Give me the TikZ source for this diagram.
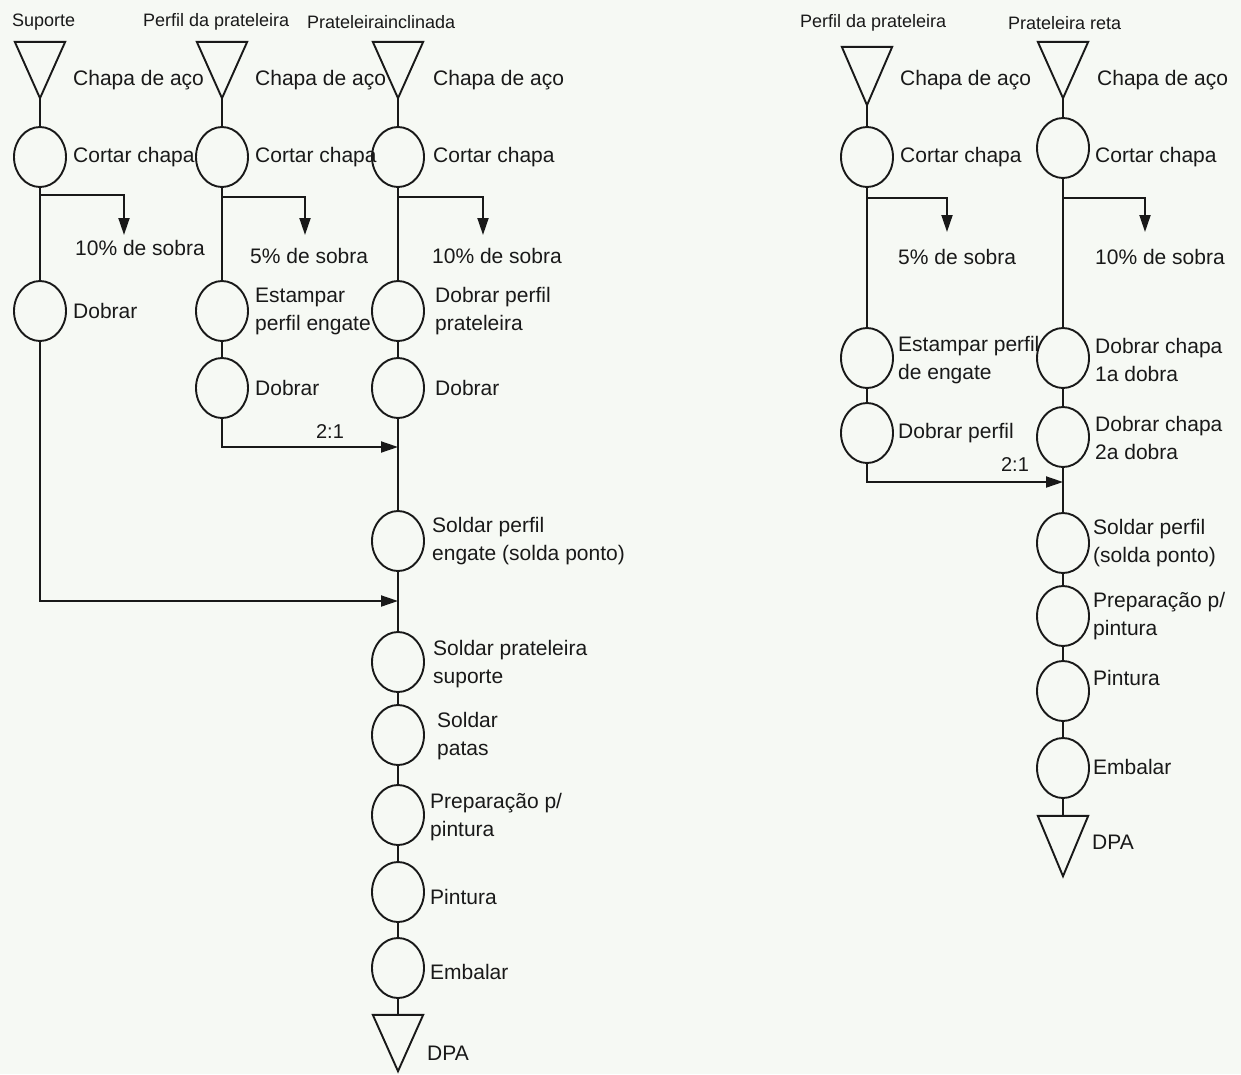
\documentclass[tikz,border=0pt]{standalone}
\usepackage{fontspec}
\setmainfont{Liberation Sans}
\usetikzlibrary{shapes.geometric,arrows.meta}
\definecolor{bgcol}{RGB}{246,249,244}
\definecolor{ink}{RGB}{25,25,25}
\begin{document}
\begin{tikzpicture}[x=1pt,y=-1pt,
  proc/.style={ellipse,draw=ink,line width=1.9pt,minimum width=52pt,minimum height=60pt,inner sep=0pt},
  tri/.style={rectangle,minimum width=50pt,minimum height=56pt,inner sep=0pt},
  trishape/.style={draw=ink,line width=1.9pt,line join=miter},
  lbl/.style={anchor=west,font=\fontsize{21}{28}\selectfont,align=left,inner sep=0pt,text=ink},
  ttl/.style={anchor=west,font=\fontsize{18}{22}\selectfont,inner sep=0pt,text=ink},
  ratio/.style={font=\fontsize{20}{24}\selectfont,inner sep=0pt,text=ink},
  ln/.style={draw=ink,line width=1.9pt},
  arr/.style={draw=ink,line width=1.9pt,-{Triangle[length=17pt,width=11pt]}}]
\fill[bgcol] (0,0) rectangle (1241,1074);
\useasboundingbox (0,0) rectangle (1241,1074);

% ---------------- left diagram ----------------
\node[ttl] (hA) at (12,22) {Suporte};
\node[ttl] (hB) at (143,22) {Perfil da prateleira};
\node[ttl] (hC) at (307,22) {Prateleirainclinada};

\node[tri] (tA) at (40,70) {};
\node[tri] (tB) at (222,70) {};
\node[tri] (tC) at (398,70) {};
\node[tri] (tC2) at (398,1043) {};
\foreach \t in {tA,tB,tC,tC2}{
  \draw[trishape] (\t.north west) -- (\t.north east) -- (\t.south) -- cycle;
}

\node[proc] (cA1) at (40,157) {};
\node[proc] (cA2) at (40,311) {};
\node[proc] (cB1) at (222,157) {};
\node[proc] (cB2) at (222,311) {};
\node[proc] (cB3) at (222,388) {};
\node[proc] (cC1) at (398,157) {};
\node[proc] (cC2) at (398,311) {};
\node[proc] (cC3) at (398,388) {};
\node[proc] (cC4) at (398,541) {};
\node[proc] (cC5) at (398,662) {};
\node[proc] (cC6) at (398,735) {};
\node[proc] (cC7) at (398,815) {};
\node[proc] (cC8) at (398,892) {};
\node[proc] (cC9) at (398,968) {};

\node[lbl] (lA0) at (73,80) {Chapa de aço};
\node[lbl] (lB0) at (255,80) {Chapa de aço};
\node[lbl] (lC0) at (433,80) {Chapa de aço};
\node[lbl] (lA1) at (73,157) {Cortar chapa};
\node[lbl] (lB1) at (255,157) {Cortar chapa};
\node[lbl] (lC1) at (433,157) {Cortar chapa};
\node[lbl] (sA) at (75,248) {10\% de sobra};
\node[lbl] (sB) at (250,256) {5\% de sobra};
\node[lbl] (sC) at (432,256) {10\% de sobra};
\node[lbl] (lA2) at (73,311) {Dobrar};
\node[lbl] (lB2) at (255,311) {Estampar\\perfil engate};
\node[lbl] (lC2) at (435,311) {Dobrar perfil\\prateleira};
\node[lbl] (lB3) at (255,388) {Dobrar};
\node[lbl] (lC3) at (435,388) {Dobrar};
\node[ratio] (rB) at (330,432) {2:1};
\node[lbl] (lC4) at (432,541) {Soldar perfil\\engate (solda ponto)};
\node[lbl] (lC5) at (433,664) {Soldar prateleira\\suporte};
\node[lbl] (lC6) at (437,736) {Soldar\\patas};
\node[lbl] (lC7) at (430,817) {Preparação p/\\pintura};
\node[lbl] (lC8) at (430,897) {Pintura};
\node[lbl] (lC9) at (430,972) {Embalar};
\node[lbl] (lCe) at (427,1053) {DPA};

\draw[ln] (tA) -- (cA1);
\draw[ln] (cA1) -- (cA2);
\draw[ln] (tB) -- (cB1);
\draw[ln] (cB1) -- (cB2) -- (cB3);
\draw[ln] (tC) -- (cC1) -- (cC2) -- (cC3) -- (cC4) -- (cC5) -- (cC6) -- (cC7) -- (cC8) -- (cC9) -- (tC2);

\coordinate (jA) at (40,195);
\coordinate (eA) at (124,235);
\coordinate (jB) at (222,197);
\coordinate (eB) at (305,235);
\coordinate (jC) at (398,197);
\coordinate (eC) at (483,235);
\draw[arr] (jA) -| (eA);
\draw[arr] (jB) -| (eB);
\draw[arr] (jC) -| (eC);

\coordinate (mB) at (398,447);
\coordinate (mA) at (398,601);
\draw[arr] (cB3) |- (mB);
\draw[arr] (cA2) |- (mA);

% ---------------- right diagram ----------------
\node[ttl] (hD) at (800,23) {Perfil da prateleira};
\node[ttl] (hE) at (1008,23) {Prateleira reta};

\node[tri,minimum height=58pt] (tD) at (867,76) {};
\node[tri] (tE) at (1063,70) {};
\node[tri,minimum height=60pt] (tE2) at (1063,846) {};
\foreach \t in {tD,tE,tE2}{
  \draw[trishape] (\t.north west) -- (\t.north east) -- (\t.south) -- cycle;
}

\node[proc] (cD1) at (867,157) {};
\node[proc] (cD2) at (867,358) {};
\node[proc] (cD3) at (867,433) {};
\node[proc] (cE1) at (1063,148) {};
\node[proc] (cE2) at (1063,358) {};
\node[proc] (cE3) at (1063,437) {};
\node[proc] (cE4) at (1063,543) {};
\node[proc] (cE5) at (1063,616) {};
\node[proc] (cE6) at (1063,691) {};
\node[proc] (cE7) at (1063,768) {};

\node[lbl] (lD0) at (900,80) {Chapa de aço};
\node[lbl] (lE0) at (1097,80) {Chapa de aço};
\node[lbl] (lD1) at (900,157) {Cortar chapa};
\node[lbl] (lE1) at (1095,157) {Cortar chapa};
\node[lbl] (sD) at (898,257) {5\% de sobra};
\node[lbl] (sE) at (1095,257) {10\% de sobra};
\node[lbl] (lD2) at (898,360) {Estampar perfil\\de engate};
\node[lbl] (lE2) at (1095,360) {Dobrar chapa\\1a dobra};
\node[lbl] (lD3) at (898,433) {Dobrar perfil};
\node[lbl] (lE3) at (1095,438) {Dobrar chapa\\2a dobra};
\node[ratio] (rD) at (1015,465) {2:1};
\node[lbl] (lE4) at (1093,543) {Soldar perfil\\(solda ponto)};
\node[lbl] (lE5) at (1093,616) {Preparação p/\\pintura};
\node[lbl] (lE6) at (1093,678) {Pintura};
\node[lbl] (lE7) at (1093,767) {Embalar};
\node[lbl] (lEe) at (1092,842) {DPA};

\draw[ln] (tD) -- (cD1) -- (cD2) -- (cD3);
\draw[ln] (tE) -- (cE1) -- (cE2) -- (cE3) -- (cE4) -- (cE5) -- (cE6) -- (cE7) -- (tE2);

\coordinate (jD) at (867,198);
\coordinate (eD) at (947,232);
\coordinate (jE) at (1063,198);
\coordinate (eE) at (1145,232);
\draw[arr] (jD) -| (eD);
\draw[arr] (jE) -| (eE);

\coordinate (mD) at (1063,482);
\draw[arr] (cD3) |- (mD);
\end{tikzpicture}
\end{document}
